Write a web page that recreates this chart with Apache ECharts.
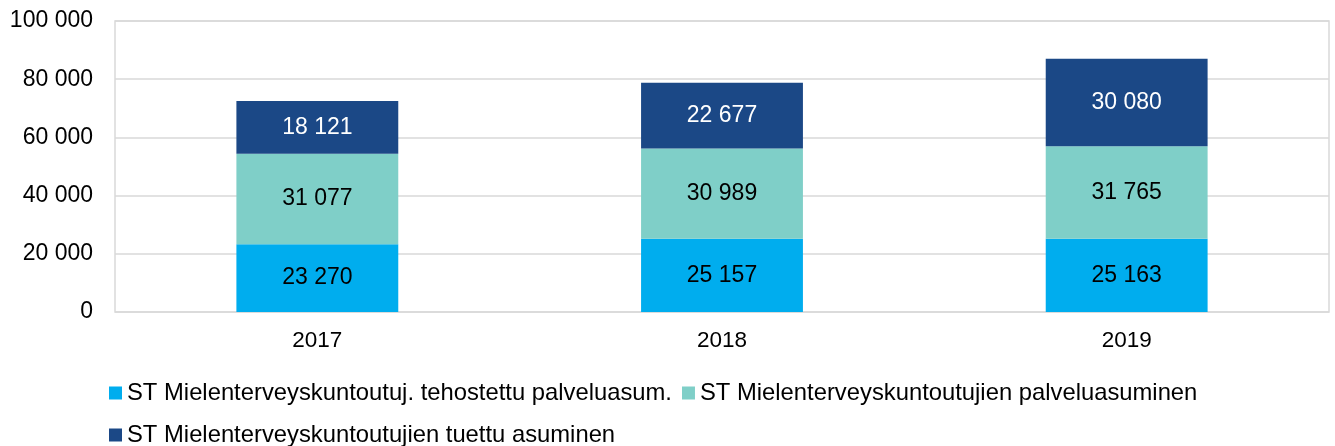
<!DOCTYPE html>
<html>
<head>
<meta charset="utf-8">
<script src="https://cdn.jsdelivr.net/npm/echarts@6/dist/echarts.min.js"></script>
<style>
  html, body { margin: 0; padding: 0; background: #fff; }
  #chart { width: 1335px; height: 446px; }
</style>
</head>
<body>
<div id="chart"></div>
<script>
  // data
  const years = ['2017', '2018', '2019'];
  const tehostettu = [23270, 25157, 25163];
  const palveluasuminen = [31077, 30989, 31765];
  const tuettu = [18121, 22677, 30080];
  const seriesNames = [
    'ST Mielenterveyskuntoutuj. tehostettu palveluasum.',
    'ST Mielenterveyskuntoutujien palveluasuminen',
    'ST Mielenterveyskuntoutujien tuettu asuminen',
  ];

  const font = 'Liberation Sans, Arial, sans-serif';
  const fmt = (v) => String(v).replace(/\B(?=(\d{3})+(?!\d))/g, ' ');

  function barSeries(name, data, color, labelColor) {
    return {
      name: name,
      type: 'bar',
      stack: 'total',
      barWidth: '40%',
      data: data,
      itemStyle: { color: color },
      label: {
        show: true,
        position: 'inside',
        color: labelColor,
        fontFamily: font,
        fontSize: 23,
        formatter: (p) => fmt(p.value),
      },
    };
  }

  const legendText = { color: '#000', fontFamily: font, fontSize: 23.8 };

  const option = {
    animation: false,
    grid: { left: 115, right: 6, top: 21, bottom: 134, containLabel: false,
      show: true, borderColor: '#d9d9d9', borderWidth: 1.5 },
    legend: [
      {
        data: seriesNames.slice(0, 2),
        left: 104, top: 376,
        icon: 'rect', itemWidth: 13, itemHeight: 13, itemGap: 10,
        textStyle: legendText,
      },
      {
        data: seriesNames.slice(2),
        left: 104, top: 418,
        icon: 'rect', itemWidth: 13, itemHeight: 13,
        textStyle: legendText,
      },
    ],
    xAxis: {
      type: 'category',
      data: years,
      axisLine: { show: false },
      axisTick: { show: false },
      axisLabel: { color: '#000', fontFamily: font, fontSize: 22.5, margin: 17 },
    },
    yAxis: {
      type: 'value',
      min: 0, max: 100000, interval: 20000,
      axisLine: { show: false },
      axisTick: { show: false },
      splitLine: { lineStyle: { color: '#d9d9d9', width: 1.5 } },
      axisLabel: { color: '#000', fontFamily: font, fontSize: 23, margin: 22, formatter: fmt },
    },
    series: [
      barSeries(seriesNames[0], tehostettu, '#00ADEE', '#000'),
      barSeries(seriesNames[1], palveluasuminen, '#7FCFC8', '#000'),
      barSeries(seriesNames[2], tuettu, '#1B4886', '#fff'),
    ],
  };

  const chart = echarts.init(document.getElementById('chart'));
  chart.setOption(option);
</script>
</body>
</html>
